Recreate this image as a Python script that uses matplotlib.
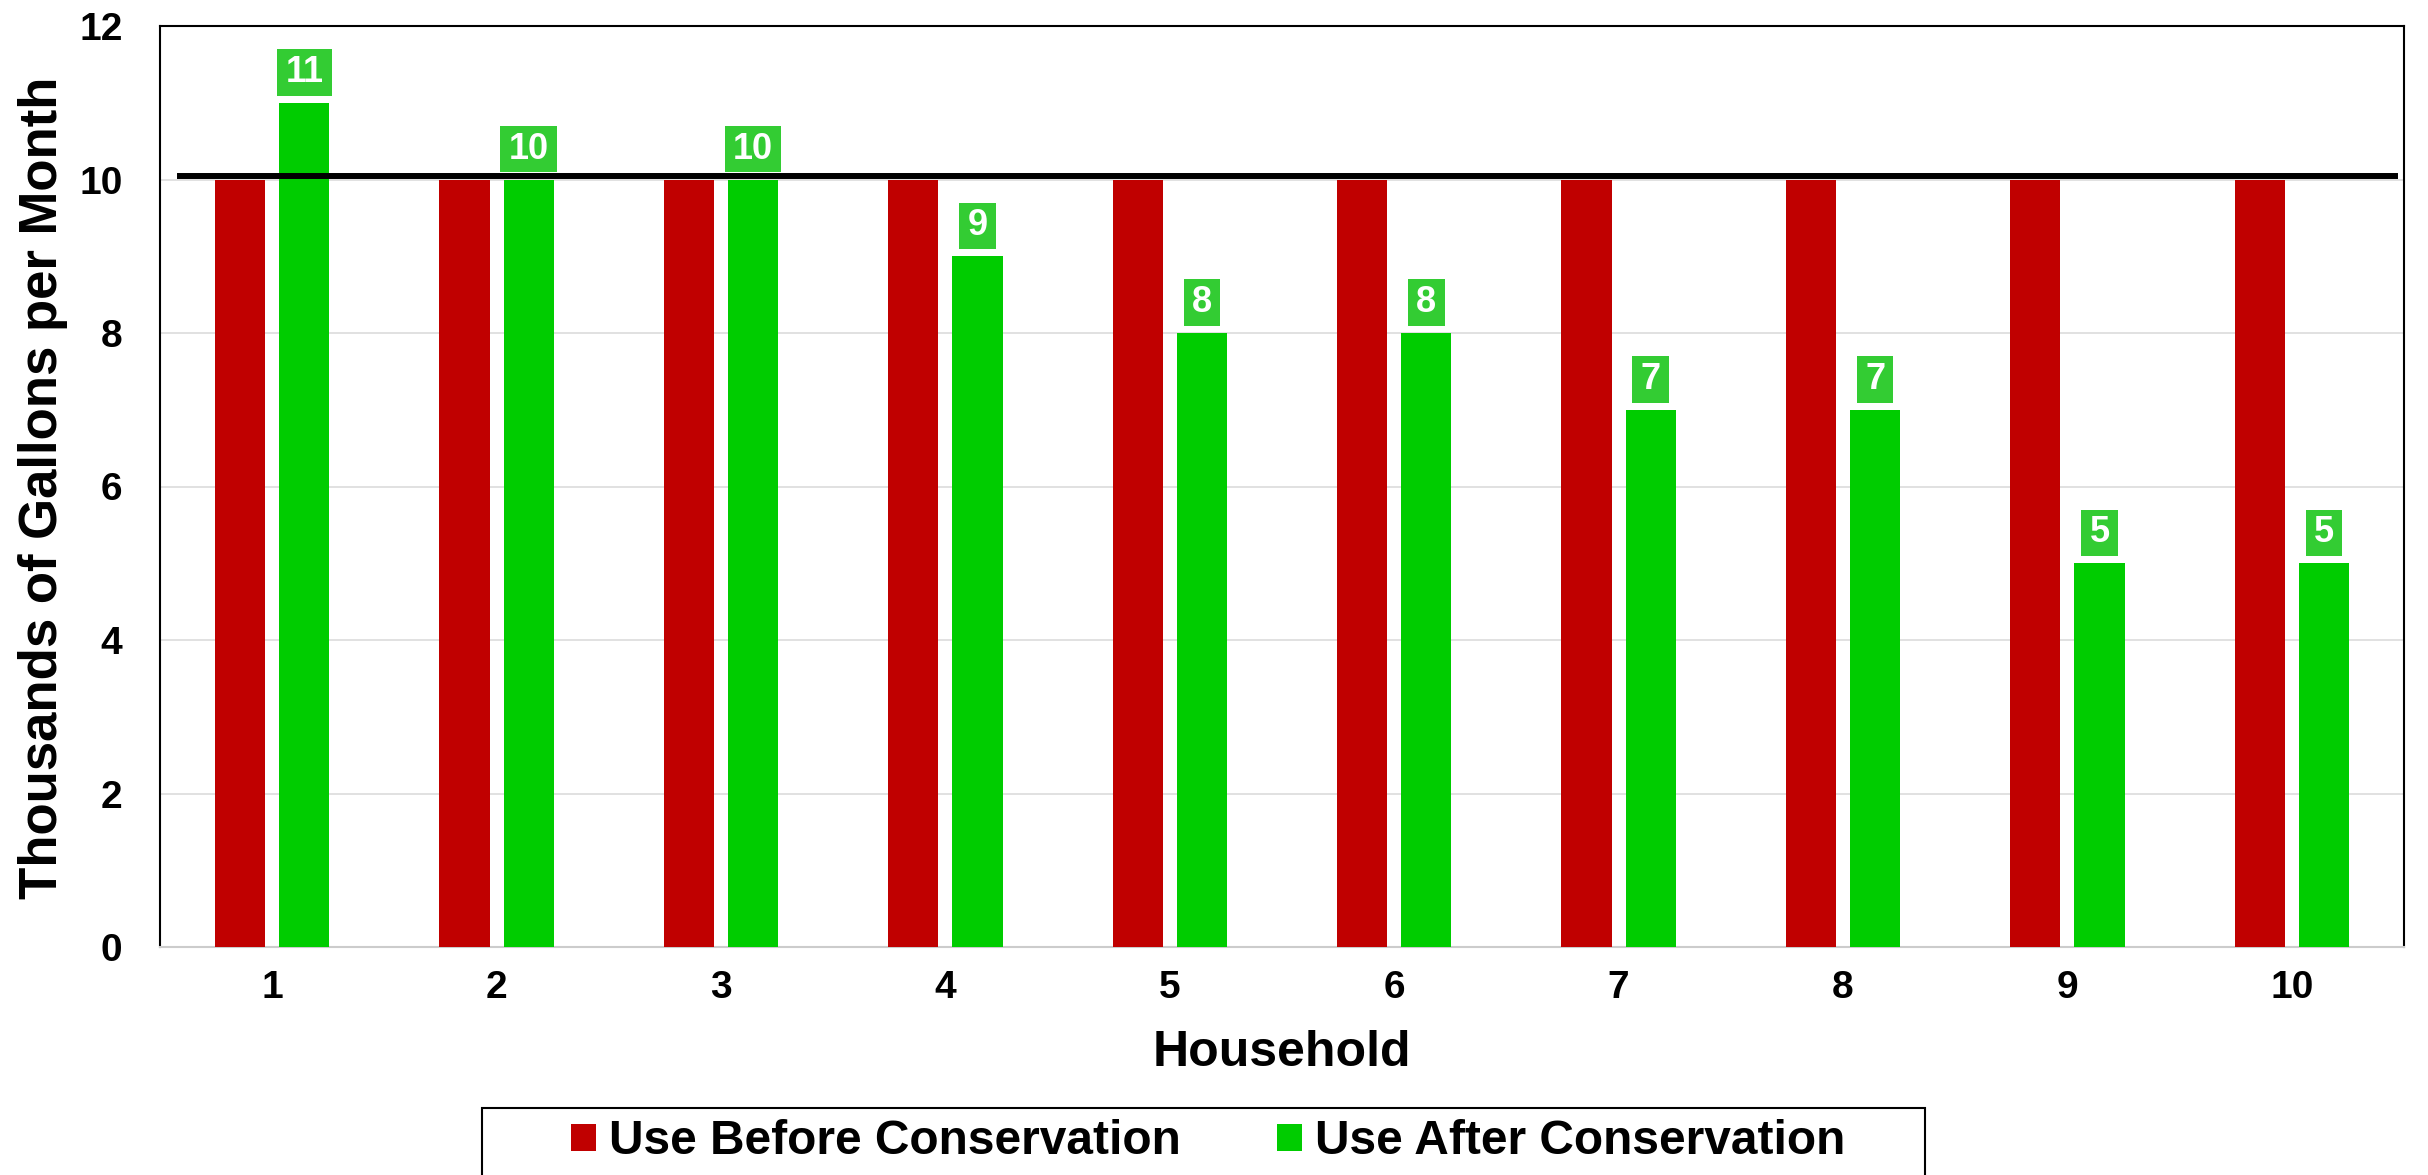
import matplotlib
matplotlib.use("Agg")
import matplotlib.pyplot as plt
from matplotlib.patches import Patch, Rectangle
from matplotlib.path import Path
import numpy as np

# ---- data ----
households = ["1", "2", "3", "4", "5", "6", "7", "8", "9", "10"]
use_before = [10, 10, 10, 10, 10, 10, 10, 10, 10, 10]
use_after = [11, 10, 10, 9, 8, 8, 7, 7, 5, 5]
reference_level = 10.05
series_names = ["Use Before Conservation", "Use After Conservation"]
y_ticks = [0, 2, 4, 6, 8, 10, 12]

# ---- style ----
RED = "#C00000"
GREEN = "#00CC00"
LABEL_GREEN = "#33CC33"
FONT = "Liberation Sans"

plt.rcParams['font.family'] = [FONT, 'DejaVu Sans']
plt.rcParams['font.weight'] = 'bold'

W, H = 2428, 1175
fig = plt.figure(figsize=(W / 100, H / 100), dpi=100)
ax = fig.add_axes([160 / W, 1 - 947 / H, (2404 - 160) / W, (947 - 26) / H])

x = np.arange(len(households))
bw = 0.223
off = 0.143
ax.bar(x - off, use_before, width=bw, color=RED, linewidth=0, zorder=3)
bars_after = ax.bar(x + off, use_after, width=bw, color=GREEN, linewidth=0, zorder=3)

ax.set_xlim(-0.5, len(households) - 0.5)
ax.set_ylim(0, 12)
ax.set_yticks(y_ticks)
ax.set_yticklabels([str(t) for t in y_ticks])
ax.set_xticks(x)
ax.set_xticklabels(households)
ax.tick_params(axis='y', length=0, pad=27, labelsize=28)
ax.tick_params(axis='x', length=0, pad=16.5, labelsize=28)
for lab in ax.get_xticklabels() + ax.get_yticklabels():
    lab.set_fontweight('bold')

ax.grid(axis='y', color='#D9D9D9', linewidth=1.1, zorder=0)
ax.set_axisbelow(True)
for s in ['left', 'top', 'right']:
    ax.spines[s].set_color('black')
    ax.spines[s].set_linewidth(1.5)
ax.spines['bottom'].set_color('#CCCCCC')
ax.spines['bottom'].set_linewidth(1.5)

# reference line
ax.axhline(reference_level, xmin=20 / 2244, xmax=2235 / 2244, color='black',
           linewidth=4.3, zorder=4)


# data labels with asymmetric padding
def label_box(x0, y0, width, height, mutation_size):
    px = 0.23 * mutation_size
    py = 0.16 * mutation_size
    x0, y0 = x0 - px, y0 - py
    x1, y1 = x0 + width + 2 * px, y0 + height + 2 * py
    return Path([(x0, y0), (x1, y0), (x1, y1), (x0, y1), (x0, y0)], closed=True)


for rect, val in zip(bars_after, use_after):
    ax.annotate(str(val), xy=(rect.get_x() + rect.get_width() / 2, rect.get_height()),
                xytext=(0, 9.2), textcoords='offset points', ha='center', va='bottom',
                fontsize=26, fontweight='bold', color='white', zorder=5,
                bbox=dict(boxstyle=label_box, facecolor=LABEL_GREEN, edgecolor='none'))

# axis titles
fig.text(57 / W, 1 - 488 / H, "Thousands of Gallons per Month", rotation=90,
         rotation_mode='anchor', ha='center', va='baseline', fontsize=38,
         fontweight='bold')
fig.text(1282 / W, 1 - 1066 / H, "Household", ha='center', va='baseline',
         fontsize=36, fontweight='bold')

# legend
handles = [Patch(facecolor=RED, edgecolor='none'), Patch(facecolor=GREEN, edgecolor='none')]
leg = fig.legend(handles, series_names, loc='center', ncol=2,
                 bbox_to_anchor=(1208 / W, 1 - 1142 / H), frameon=False,
                 prop={'family': FONT, 'weight': 'bold', 'size': 34.5},
                 handlelength=0.52, handleheight=0.52, handletextpad=0.27,
                 columnspacing=2.0, borderpad=0)
fig.patches.append(Rectangle((482 / W, -0.02), (1925 - 482) / W, 0.02 + 1 - 1108 / H,
                             transform=fig.transFigure, fill=False,
                             edgecolor='black', linewidth=1.5))

fig.savefig("out.png", dpi=100)
